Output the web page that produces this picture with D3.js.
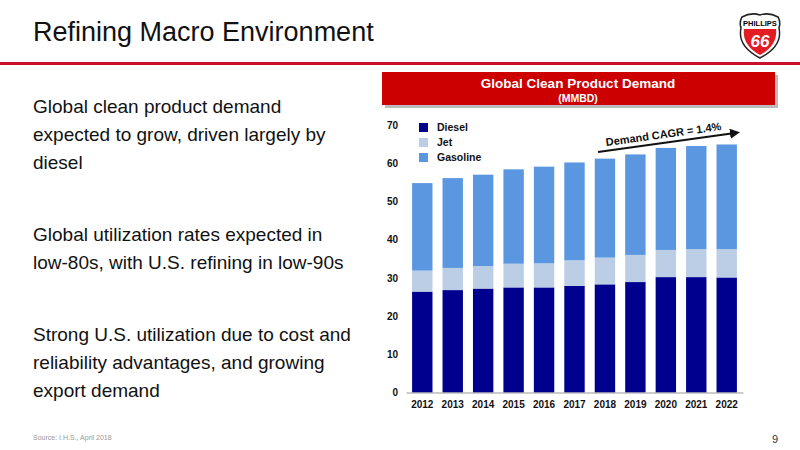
<!DOCTYPE html>
<html>
<head>
<script src="https://d3js.org/d3.v7.min.js"></script>
<style>body{margin:0;background:#fff;font-family:"Liberation Sans",Arial,sans-serif}</style>
</head>
<body>
<script>
const years = ["2012","2013","2014","2015","2016","2017","2018","2019","2020","2021","2022"];
const diesel = [26.4,26.8,27.2,27.5,27.5,27.9,28.3,28.9,30.2,30.2,30.1];
const jet = [5.5,5.8,5.9,6.2,6.3,6.7,7.0,7.1,7.1,7.3,7.4];
const gasoline = [22.9,23.5,23.9,24.7,25.3,25.6,25.9,26.3,26.7,27.0,27.4];
const seriesNames = ["Diesel","Jet","Gasoline"];
const colors = ["#00008f","#bccde6","#5b97e0"];
const yTicks = [0,10,20,30,40,50,60,70];
const bullets = [
  ["Global clean product demand","expected to grow, driven largely by","diesel"],
  ["Global utilization rates expected in","low-80s, with U.S. refining in low-90s"],
  ["Strong U.S. utilization due to cost and","reliability advantages, and growing","export demand"]
];

const W = 800, H = 450;
const svg = d3.select("body").append("svg").attr("width", W).attr("height", H);

// header
svg.append("text").attr("x", 33).attr("y", 41).attr("font-size", 27).attr("fill", "#111")
  .text("Refining Macro Environment");
svg.append("rect").attr("x", 0).attr("y", 62).attr("width", W).attr("height", 3).attr("fill", "#c8102e");

// logo
const logo = svg.append("g").attr("transform", "translate(739,12)");
logo.append("path").attr("d", "M3,5 Q12,0 21,3 Q30,0 39,5 Q42,10 40,16 Q44,34 21,46 Q-2,34 2,16 Q0,10 3,5Z")
  .attr("fill", "#fff").attr("stroke", "#222").attr("stroke-width", 1.5);
logo.append("path").attr("d", "M5,17 L37,17 Q39,33 21,43 Q3,33 5,17Z").attr("fill", "#e31b23");
logo.append("text").attr("x", 21).attr("y", 14).attr("text-anchor", "middle").attr("font-size", 7.5)
  .attr("font-weight", "bold").text("PHILLIPS");
logo.append("text").attr("x", 21).attr("y", 35).attr("text-anchor", "middle").attr("font-size", 17)
  .attr("font-weight", "bold").attr("font-style", "italic").attr("fill", "#fff").text("66");

// bullets
let by = 113;
bullets.forEach((b, i) => {
  b.forEach((l, j) => {
    svg.append("text").attr("x", 33).attr("y", by + j * 28).attr("font-size", 19).attr("fill", "#111").text(l);
  });
  by += [128, 100][i] || 0;
});

svg.append("text").attr("x", 33).attr("y", 440).attr("font-size", 7).attr("fill", "#999").text("Source: I.H.S., April 2018");
svg.append("text").attr("x", 778).attr("y", 443).attr("font-size", 11).attr("text-anchor", "end").attr("fill", "#333").text("9");

// chart title box
svg.append("rect").attr("x", 385).attr("y", 75).attr("width", 393).attr("height", 33).attr("fill", "#bbb");
svg.append("rect").attr("x", 382).attr("y", 72).attr("width", 393).attr("height", 33).attr("fill", "#cc0000");
svg.append("text").attr("x", 578).attr("y", 88).attr("text-anchor", "middle").attr("font-size", 13.5)
  .attr("font-weight", "bold").attr("fill", "#fff").text("Global Clean Product Demand");
svg.append("text").attr("x", 578).attr("y", 102).attr("text-anchor", "middle").attr("font-size", 10.5)
  .attr("font-weight", "bold").attr("fill", "#fff").text("(MMBD)");

// chart
const x = d3.scaleBand().domain(years).range([406, 743]).paddingInner(0.33).paddingOuter(0.2);
const y = d3.scaleLinear().domain([0, 70]).range([392.5, 125]);

const data = years.map((yr, i) => ({ year: yr, Diesel: diesel[i], Jet: jet[i], Gasoline: gasoline[i] }));
const stack = d3.stack().keys(seriesNames)(data);
svg.append("g").selectAll("g").data(stack).join("g").attr("fill", (d, i) => colors[i])
  .selectAll("rect").data(d => d).join("rect")
  .attr("x", d => x(d.data.year)).attr("width", x.bandwidth())
  .attr("y", d => y(d[1])).attr("height", d => y(d[0]) - y(d[1]));

svg.append("g").attr("transform", "translate(0,392.5)")
  .call(d3.axisBottom(x).tickSize(0).tickPadding(8))
  .call(g => g.select(".domain").attr("stroke", "#999"))
  .selectAll("text").attr("font-size", 10).attr("font-weight", "bold").attr("fill", "#111")
  .attr("font-family", "Liberation Sans, Arial, sans-serif");

svg.append("g").attr("transform", "translate(406,0)")
  .call(d3.axisLeft(y).tickValues(yTicks).tickSize(0).tickPadding(8))
  .call(g => g.select(".domain").remove())
  .selectAll("text").attr("font-size", 10).attr("font-weight", "bold").attr("fill", "#111")
  .attr("font-family", "Liberation Sans, Arial, sans-serif");

// legend
seriesNames.forEach((n, i) => {
  svg.append("rect").attr("x", 419).attr("y", 123 + i * 15).attr("width", 9).attr("height", 9).attr("fill", colors[i]);
  svg.append("text").attr("x", 437).attr("y", 131 + i * 15).attr("font-size", 10.5).attr("font-weight", "bold")
    .attr("fill", "#111").text(n);
});

// CAGR annotation
svg.append("defs").append("marker").attr("id", "arr").attr("viewBox", "0 0 10 10").attr("refX", 5).attr("refY", 5)
  .attr("markerWidth", 5).attr("markerHeight", 5).attr("orient", "auto")
  .append("path").attr("d", "M0,0 L10,5 L0,10Z").attr("fill", "#111");
svg.append("line").attr("x1", 598).attr("y1", 152).attr("x2", 735).attr("y2", 133)
  .attr("stroke", "#111").attr("stroke-width", 2).attr("marker-end", "url(#arr)");
svg.append("text").attr("transform", "translate(664,138) rotate(-8)").attr("text-anchor", "middle")
  .attr("font-size", 11).attr("font-weight", "bold").attr("fill", "#111").text("Demand CAGR = 1.4%");
</script>
</body>
</html>
